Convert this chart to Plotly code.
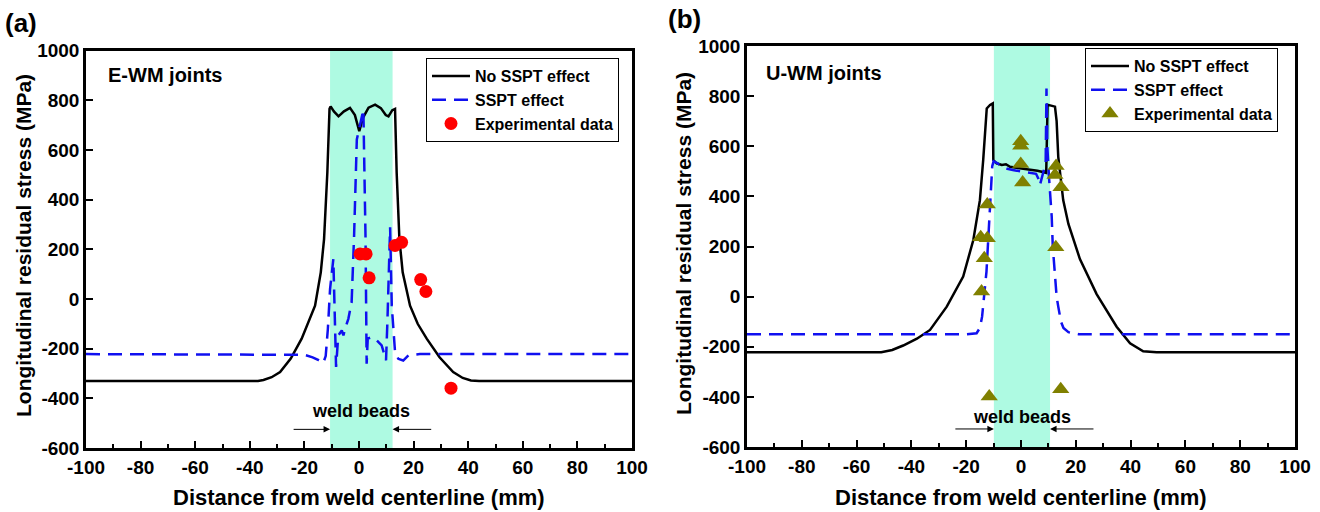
import plotly.graph_objects as go

# ---------------- data: panel (a) E-WM joints ----------------
a_nosspt_x = [-100, -37, -35, -32, -28.9, -25, -21, -18.5, -16.1, -14, -12.8, -11.6, -11.0, -10.8, -10.4,
              -9.2, -7.5, -5.5, -3.3, -1.5, 0.1, 1.5, 3.5, 5.9, 8.0, 9.8, 10.8, 12.2, 13.2, 13.5, 13.8,
              14.8, 16.0, 18.7, 21.5, 24.8, 29.5, 34.5, 38, 41, 44, 100]
a_nosspt_y = [-330, -330, -326, -315, -294, -240, -160, -90, -27, 107, 241, 508, 710, 765, 775,
              755, 735, 755, 769, 740, 675, 730, 770, 782, 768, 740, 735, 760, 765, 640, 508,
              241, 107, -27, -100, -160, -235, -294, -318, -328, -330, -330]

a_sspt_x = [-100, -24, -20, -17, -15, -13.1, -12.2, -11.4, -10.6, -9.4, -8.9, -8.4, -7.6, -6.3, -5.7,
            -5.1, -3.9, -2.7, -1.8, -0.8, 0.0, 1.0, 1.6, 2.0, 2.4, 2.8, 3.2, 4.6, 6.5, 8.3, 9.9,
            10.4, 11.4, 12.0, 13.2, 14.4, 16.2, 18.1, 22.3, 100]
a_sspt_y = [-222, -222, -225, -235, -245, -258, -230, -120, 40, 160, -60, -274, -147, -127, -147,
            -120, -80, -13, 254, 642, 682, 735, 762, 500, 241, -261, -160, -154, -167, -187, -247,
            -94, 288, -27, -214, -241, -248, -227, -222, -222]

a_exp_x = [0.4, 2.6, 3.7, 13.2, 15.6, 22.6, 24.5, 33.7]
a_exp_y = [181, 181, 85, 215, 228, 78, 30, -359]

# ---------------- data: panel (b) U-WM joints ----------------
b_nosspt_x = [-100, -51, -47, -43, -38, -33.2, -27.1, -21.1, -17.4, -15.0, -13.8, -13.1, -12.5, -11.3,
              -10.3, -10.1, -8.9, -7.0, -5.5, -4.0, -2.0, 0.0, 3.3, 6.0, 9.2, 9.5, 9.7, 11.0, 12.4,
              13.0, 13.6, 15.4, 17.3, 21.5, 27.6, 34.9, 39.8, 44.6, 49.5, 100]
b_nosspt_y = [-222, -222, -213, -195, -168, -133, -40, 80, 226, 385, 545, 678, 751, 765,
              771, 545, 532, 525, 528, 518, 515, 512, 508, 502, 494, 650, 765, 762, 758,
              700, 558, 385, 290, 150, 10, -120, -186, -218, -222, -222]

b_sspt_x = [-100, -20, -16.2, -15.0, -14.2, -13.4, -12.6, -12.0, -11.5, -11.0, -10.5, -10.0, -9.0,
            -7.0, -5.0, -3.0, 0.0, 3.3, 5.5, 6.3, 6.9, 7.5, 8.1, 9.0, 9.3, 9.6, 10.2, 11.2, 11.6,
            12.4, 13.0, 13.6, 14.6, 15.5, 17.3, 21.0, 100]
b_sspt_y = [-150, -150, -146, -125, -80, 0, 100, 220, 330, 450, 520, 540, 535,
            520, 510, 505, 500, 496, 490, 472, 445, 470, 496, 532, 830, 600, 480, 320, 200,
            100, 0, -40, -100, -125, -142, -150, -150]

b_exp_x = [-0.1, -0.1, -0.1, 0.6, -12.3, -14.7, -12.3, -13.4, -14.4, -11.6, 12.8, 12.4, 14.6, 12.7, 14.5]
b_exp_y = [620, 602, 529, 455, 368, 237, 233, 153, 20, -399, 521, 485, 436, 197, -370]

# weld bead zones and labels
a_bead = [-10.6, 12.3]
b_bead = [-9.9, 10.6]
x_ticks = list(range(-100, 101, 20))
x_ticklabels = [f"<b>{v}</b>" for v in x_ticks]
y_ticks = list(range(-600, 1001, 200))
y_ticklabels = [f"<b>{v}</b>" for v in y_ticks]
series_names = ["No SSPT effect", "SSPT effect", "Experimental data"]

FONT = "Liberation Sans, Arial, sans-serif"
W, H = 1320, 512

# pixel geometry of the two plot areas
A_X = (86, 632)
A_Y = (50.5, 448)
B_X = (747, 1295)
B_Y = (46, 447)

def dom_x(p):
    return [p[0] / W, p[1] / W]

def dom_y(p):
    return [1 - p[1] / H, 1 - p[0] / H]

fig = go.Figure()

def add_panel(xs1, ys1, xs2, ys2, ex, ey, xa, ya, legend, marker):
    fig.add_trace(go.Scatter(x=xs1, y=ys1, mode="lines", name=f"<b>{series_names[0]}</b>",
                             line=dict(color="black", width=2.5), xaxis=xa, yaxis=ya, legend=legend))
    fig.add_trace(go.Scatter(x=xs2, y=ys2, mode="lines", name=f"<b>{series_names[1]}</b>",
                             line=dict(color="#1010f0", width=2.5, dash="14px,8px"),
                             xaxis=xa, yaxis=ya, legend=legend))
    fig.add_trace(go.Scatter(x=ex, y=ey, mode="markers", name=f"<b>{series_names[2]}</b>",
                             marker=marker, xaxis=xa, yaxis=ya, legend=legend))

add_panel(a_nosspt_x, a_nosspt_y, a_sspt_x, a_sspt_y, a_exp_x, a_exp_y, "x", "y", "legend",
          dict(color="#ff0000", size=13, symbol="circle"))
add_panel(b_nosspt_x, b_nosspt_y, b_sspt_x, b_sspt_y, b_exp_x, b_exp_y, "x2", "y2", "legend2",
          dict(color="#808000", size=15, symbol="triangle-up"))

tickfont = dict(family=FONT, size=19, color="black")

def xaxis_cfg(px):
    return dict(domain=dom_x(px), range=[-100, 100], tickvals=x_ticks, ticktext=x_ticklabels,
                ticks="inside", ticklen=7, automargin=False,
                tickwidth=2, tickcolor="black", showline=True, linewidth=2.5, linecolor="black",
                mirror=True, showgrid=False, zeroline=False, tickfont=tickfont,
                minor=dict(ticks="inside", ticklen=4, tickwidth=2, tickcolor="black", dtick=10,
                           showgrid=False))

def yaxis_cfg(py, anchor):
    return dict(domain=dom_y(py), range=[-600, 1000], tickvals=y_ticks, ticktext=y_ticklabels,
                ticks="inside", ticklen=7, automargin=False,
                tickwidth=2, tickcolor="black", showline=True, linewidth=2.5, linecolor="black",
                mirror=True, showgrid=False, zeroline=False, tickfont=tickfont, anchor=anchor)

leg_common = dict(bgcolor="white", bordercolor="black", borderwidth=1,
                  font=dict(family=FONT, size=16, color="black"),
                  xanchor="left", yanchor="top", tracegroupgap=0, itemwidth=38)

fig.update_layout(
    width=W, height=H, margin=dict(l=0, r=0, t=0, b=0, autoexpand=False),
    paper_bgcolor="white", plot_bgcolor="white", showlegend=True,
    xaxis=dict(**xaxis_cfg(A_X), anchor="y"),
    yaxis=yaxis_cfg(A_Y, "x"),
    xaxis2=dict(**xaxis_cfg(B_X), anchor="y2"),
    yaxis2=yaxis_cfg(B_Y, "x2"),
    legend=dict(**leg_common, x=426 / W, y=1 - 58 / H),
    legend2=dict(**leg_common, x=1085 / W, y=1 - 48 / H),
)

# weld bead bands
for xr, yr, band in (("x", "y", a_bead), ("x2", "y2", b_bead)):
    fig.add_shape(type="rect", xref=xr, yref=yr + " domain", x0=band[0], x1=band[1], y0=0, y1=1,
                  fillcolor="#aefae2", line_width=0, layer="below")

def ann(text, x, y, size, xanchor="center", yanchor="middle", angle=0):
    fig.add_annotation(text=f"<b>{text}</b>", x=x / W, y=1 - y / H, xref="paper", yref="paper",
                       showarrow=False, xanchor=xanchor, yanchor=yanchor, textangle=angle,
                       font=dict(family=FONT, size=size, color="black"))

# panel labels, titles
ann("(a)", 3, 23, 26, xanchor="left")
ann("(b)", 666, 19, 26, xanchor="left")
ann("E-WM joints", 106, 75, 20, xanchor="left")
ann("U-WM joints", 764, 73, 20, xanchor="left")
ann("Longitudinal residual stress (MPa)", 23, 246, 21, angle=-90)
ann("Longitudinal residual stress (MPa)", 683, 244, 21, angle=-90)
ann("Distance from weld centerline (mm)", 359, 497, 22)
ann("Distance from weld centerline (mm)", 1021, 497, 22)

# weld beads labels with arrows
for xr, yr, band, ty, ay, tails in (("x", "y", a_bead, -453, -525, (-24.5, 27)),
                                     ("x2", "y2", b_bead, -480, -528, (-24.5, 27))):
    fig.add_annotation(text="<b>weld beads</b>", x=(band[0] + band[1]) / 2, y=ty, xref=xr, yref=yr,
                       showarrow=False, font=dict(family=FONT, size=18, color="black"))
    for tip, tail in ((band[0], tails[0]), (band[1], tails[1])):
        fig.add_annotation(x=tip, y=ay, ax=tail, ay=ay, xref=xr, yref=yr, axref=xr, ayref=yr,
                           text="", showarrow=True, arrowhead=2, arrowsize=1.3, arrowwidth=1,
                           arrowcolor="black")

fig.write_html("out.html")
